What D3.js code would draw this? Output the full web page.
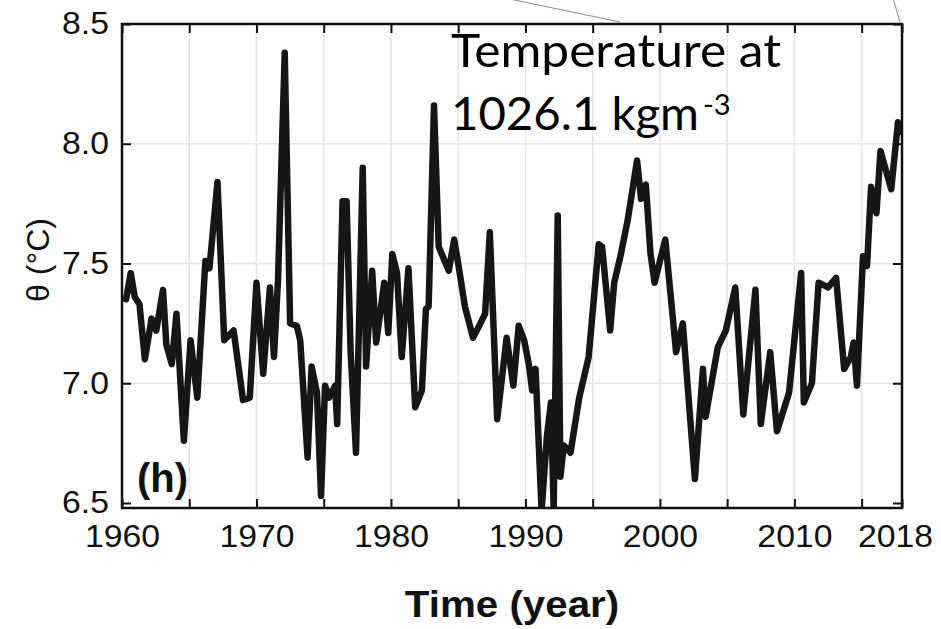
<!DOCTYPE html>
<html>
<head>
<meta charset="utf-8">
<script src="https://cdn.jsdelivr.net/npm/d3@7"></script>
<style>
  body { margin: 0; background: #fff; }
  svg { display: block; }
  .tick text { font-family: "Liberation Sans", Arial, sans-serif; font-size: 31px; fill: #111; }
</style>
</head>
<body>
<svg id="chart" width="941" height="629"></svg>
<script>
// temperature on the 1026.1 kg m-3 surface
const years = [
  1960.3, 1960.65, 1960.95, 1961.3, 1961.7, 1962.2, 1962.55, 1963.05, 1963.3, 1963.7,
  1964.05, 1964.6, 1965.1, 1965.6, 1966.2, 1966.5, 1967.1, 1967.6, 1968.3, 1969.0,
  1969.5, 1970.0, 1970.5, 1971.0, 1971.3, 1971.6, 1972.1, 1972.5, 1973.0, 1973.25,
  1973.8, 1974.1, 1974.5, 1974.8, 1975.1, 1975.4, 1975.85, 1976.0, 1976.4, 1976.7,
  1977.0, 1977.4, 1977.9, 1978.15, 1978.6, 1978.9, 1979.5, 1979.8, 1980.1, 1980.45,
  1980.8, 1981.3, 1981.8, 1982.3, 1982.6, 1982.8, 1983.2, 1983.55, 1984.3, 1984.7,
  1985.0, 1985.5, 1986.1, 1986.65, 1987.0, 1987.35, 1987.9, 1988.6, 1989.1, 1989.5,
  1989.9, 1990.25, 1990.5, 1990.75, 1991.2, 1991.6, 1991.9, 1992.1, 1992.4, 1992.6,
  1992.85, 1993.35, 1994.0, 1994.7, 1995.45, 1995.7, 1996.3, 1996.6, 1997.1, 1997.6,
  1998.3, 1998.6, 1998.95, 1999.3, 1999.6, 2000.4, 2001.2, 2001.7, 2002.6, 2003.2,
  2003.4, 2004.3, 2004.9, 2005.6, 2006.2, 2007.1, 2007.5, 2008.2, 2008.7, 2009.6,
  2010.5, 2010.7, 2011.3, 2011.8, 2012.5, 2013.1, 2013.7, 2014.2, 2014.4, 2014.65,
  2015.1, 2015.4, 2015.7, 2016.1, 2016.4, 2017.2, 2017.7, 2017.9
]
const theta = [
  7.35, 7.46, 7.36, 7.33, 7.10, 7.27, 7.22, 7.39, 7.16, 7.08,
  7.29, 6.76, 7.18, 6.94, 7.51, 7.48, 7.84, 7.18, 7.22, 6.93,
  6.94, 7.42, 7.04, 7.40, 7.11, 7.43, 8.38, 7.25, 7.24, 7.18,
  6.69, 7.07, 6.96, 6.53, 6.99, 6.94, 6.99, 6.83, 7.76, 7.76,
  7.13, 6.71, 7.90, 7.07, 7.47, 7.17, 7.42, 7.21, 7.54, 7.46,
  7.11, 7.48, 6.90, 6.97, 7.31, 7.32, 8.16, 7.57, 7.47, 7.60,
  7.50, 7.32, 7.19, 7.25, 7.29, 7.63, 6.85, 7.19, 6.99, 7.24,
  7.18, 7.08, 6.97, 7.06, 6.47, 6.78, 6.92, 6.47, 7.70, 6.61,
  6.74, 6.71, 6.94, 7.11, 7.58, 7.57, 7.22, 7.42, 7.54, 7.68,
  7.93, 7.77, 7.83, 7.54, 7.42, 7.60, 7.13, 7.25, 6.60, 7.06,
  6.86, 7.15, 7.22, 7.40, 6.87, 7.39, 6.83, 7.13, 6.80, 6.96,
  7.46, 6.92, 7.00, 7.42, 7.40, 7.44, 7.06, 7.11, 7.17, 6.99,
  7.53, 7.49, 7.82, 7.71, 7.97, 7.81, 8.09, 8.05
]

const xTicks = [1960, 1965, 1970, 1975, 1980, 1985, 1990, 1995, 2000, 2005, 2010, 2015, 2018]
const xLabelled = [1960, 1970, 1980, 1990, 2000, 2010, 2018]
const yTicks = [6.5, 7.0, 7.5, 8.0, 8.5]
const xGrid = [1965, 1970, 1975, 1980, 1985, 1990, 1995, 2000, 2005, 2010, 2015]
const yGrid = [7.0, 7.5, 8.0]

const plotLeft = 122, plotRight = 902, plotTop = 24, plotBottom = 508

const svg = d3.select('#chart')

const x = d3.scaleLinear()
    .domain([1960, 2018])
    .range([plotLeft, plotRight])

const y = d3.scaleLinear()
    .domain([6.5, 8.5])
    .range([503, plotTop])

// callout lines from the panel above
svg.append('line')
    .attr('x1', 505).attr('y1', -2)
    .attr('x2', 620).attr('y2', plotTop - 2)
    .attr('stroke', '#8a8a8a')
    .attr('stroke-width', 1)

svg.append('line')
    .attr('x1', 893).attr('y1', -2)
    .attr('x2', 900).attr('y2', plotTop - 2)
    .attr('stroke', '#8a8a8a')
    .attr('stroke-width', 1)

// grid
const grid = svg.append('g')
    .attr('stroke', '#e4e4e4')
    .attr('stroke-width', 1.5)

grid.selectAll('.vgrid')
  .data(xGrid)
  .join('line')
    .attr('class', 'vgrid')
    .attr('x1', d => x(d)).attr('x2', d => x(d))
    .attr('y1', plotTop).attr('y2', plotBottom)

grid.selectAll('.hgrid')
  .data(yGrid)
  .join('line')
    .attr('class', 'hgrid')
    .attr('x1', plotLeft).attr('x2', plotRight)
    .attr('y1', d => y(d)).attr('y2', d => y(d))

// series
svg.append('clipPath')
    .attr('id', 'plot-clip')
  .append('rect')
    .attr('x', plotLeft).attr('y', plotTop)
    .attr('width', plotRight - plotLeft).attr('height', plotBottom - plotTop)

const line = d3.line()
    .x(i => x(years[i]))
    .y(i => y(theta[i]))

svg.append('path')
    .attr('clip-path', 'url(#plot-clip)')
    .attr('d', line(d3.range(years.length)))
    .attr('fill', 'none')
    .attr('stroke', '#161616')
    .attr('stroke-width', 6.5)
    .attr('stroke-linejoin', 'round')
    .attr('stroke-linecap', 'round')

// axes
function styleAxis(g) {
  g.select('.domain').remove()
  g.selectAll('.tick line')
      .attr('stroke', '#111')
      .attr('stroke-width', 2)
}

svg.append('g')
    .attr('transform', `translate(0,${plotBottom})`)
    .call(d3.axisBottom(x)
      .tickValues(xTicks)
      .tickSizeInner(-9)
      .tickSizeOuter(0)
      .tickPadding(17)
      .tickFormat(d => xLabelled.includes(d) ? d : ''))
    .call(styleAxis)
    .call(g => g.selectAll('.tick text')
      .attr('transform', d => `translate(${d === 2018 ? -7 : 0},0) scale(1.09,1)`))

svg.append('g')
    .attr('transform', `translate(0,${plotTop})`)
    .call(d3.axisTop(x)
      .tickValues(xTicks)
      .tickSizeInner(-9)
      .tickSizeOuter(0)
      .tickFormat(''))
    .call(styleAxis)

svg.append('g')
    .attr('transform', `translate(${plotLeft},0)`)
    .call(d3.axisLeft(y)
      .tickValues(yTicks)
      .tickSizeInner(-9)
      .tickSizeOuter(0)
      .tickPadding(12)
      .tickFormat(d3.format('.1f')))
    .call(styleAxis)
    .call(g => g.selectAll('.tick text')
      .attr('transform', 'scale(1.09,1)'))

svg.append('g')
    .attr('transform', `translate(${plotRight},0)`)
    .call(d3.axisRight(y)
      .tickValues(yTicks)
      .tickSizeInner(-9)
      .tickSizeOuter(0)
      .tickFormat(''))
    .call(styleAxis)

// frame
svg.append('rect')
    .attr('x', plotLeft).attr('y', plotTop)
    .attr('width', plotRight - plotLeft).attr('height', plotBottom - plotTop)
    .attr('fill', 'none')
    .attr('stroke', '#111')
    .attr('stroke-width', 2.5)

// labels
svg.append('text')
    .attr('transform', 'translate(512,617) scale(1.09,1)')
    .attr('text-anchor', 'middle')
    .attr('font-family', '"Liberation Sans", Arial, sans-serif')
    .attr('font-weight', 'bold')
    .attr('font-size', 37)
    .attr('fill', '#111')
    .text('Time (year)')

svg.append('text')
    .attr('transform', 'translate(49,260) rotate(-90)')
    .attr('text-anchor', 'middle')
    .attr('font-family', '"Liberation Sans", Arial, sans-serif')
    .attr('font-size', 32)
    .attr('fill', '#111')
    .text('θ (°C)')

svg.append('text')
    .attr('x', 137).attr('y', 492)
    .attr('font-family', '"Liberation Sans", Arial, sans-serif')
    .attr('font-weight', 'bold')
    .attr('font-size', 40)
    .attr('fill', '#111')
    .text('(h)')

const note = svg.append('g')
    .attr('font-family', 'Lato, "Open Sans", sans-serif')
    .attr('fill', '#000')

note.append('text')
    .attr('x', 451).attr('y', 67)
    .attr('font-size', 47)
    .attr('textLength', 330)
    .attr('lengthAdjust', 'spacingAndGlyphs')
    .text('Temperature at')

const note2 = note.append('text')
    .attr('x', 451).attr('y', 130)
    .attr('font-size', 47)

note2.append('tspan')
    .attr('textLength', 248)
    .attr('lengthAdjust', 'spacingAndGlyphs')
    .text('1026.1 kgm')
note2.append('tspan')
    .attr('x', 703)
    .attr('dy', -15)
    .attr('font-size', 29)
    .text('-3')
</script>
</body>
</html>
